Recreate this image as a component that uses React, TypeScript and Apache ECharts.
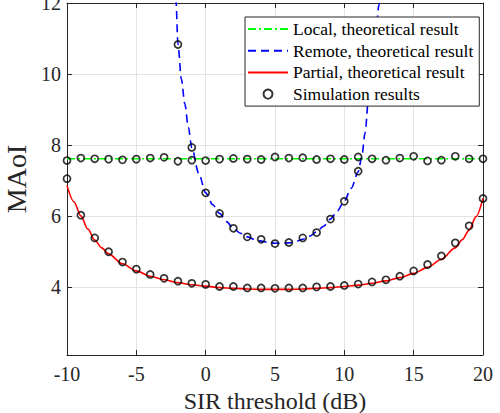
import React, { useEffect, useRef } from "react";
import * as echarts from "echarts";

// ---- Data ----
const seriesNames = [
  "Local, theoretical result",
  "Remote, theoretical result",
  "Partial, theoretical result",
  "Simulation results",
];
const xTitle = "SIR threshold (dB)";
const yTitle = "MAoI";

const simX = [-10, -9, -8, -7, -6, -5, -4, -3, -2, -1, 0, 1, 2, 3, 4, 5, 6, 7, 8, 9, 10, 11, 12, 13, 14, 15, 16, 17, 18, 19, 20];
const localSimY = [7.56, 7.63, 7.61, 7.6, 7.58, 7.6, 7.63, 7.65, 7.54, 7.57, 7.56, 7.6, 7.62, 7.6, 7.59, 7.66, 7.63, 7.64, 7.59, 7.61, 7.59, 7.66, 7.61, 7.57, 7.63, 7.68, 7.55, 7.57, 7.68, 7.61, 7.61];
const partialSimY = [7.05, 6.02, 5.38, 4.99, 4.7, 4.5, 4.35, 4.24, 4.16, 4.1, 4.07, 4.01, 4.01, 3.97, 3.97, 3.96, 3.97, 3.97, 4.0, 4.01, 4.04, 4.08, 4.14, 4.2, 4.3, 4.45, 4.63, 4.87, 5.24, 5.72, 6.49];
const remoteSimX = [-2, -1, 0, 1, 2, 3, 4, 5, 6, 7, 8, 9, 10, 11];
const remoteSimY = [10.83, 7.93, 6.65, 6.07, 5.65, 5.41, 5.34, 5.22, 5.25, 5.38, 5.53, 5.91, 6.41, 7.26];

const localTheoryX = [-10, 20];
const localTheoryY = [7.61, 7.61];

const remoteTheoryX = [-2.2, -2.14, -2, -1.75, -1.5, -1.25, -1, -0.5, 0, 0.5, 1, 1.5, 2, 2.5, 3, 3.5, 4, 4.5, 5, 5.5, 6, 6.5, 7, 7.5, 8, 8.5, 9, 9.5, 10, 10.5, 11, 11.25, 11.5, 11.75, 12, 12.25, 12.5, 12.75];
const remoteTheoryY = [12.5, 12.05, 10.85, 9.85, 9.15, 8.5, 7.92, 7.2, 6.65, 6.32, 6.07, 5.84, 5.65, 5.51, 5.41, 5.34, 5.29, 5.25, 5.23, 5.23, 5.24, 5.28, 5.34, 5.43, 5.55, 5.71, 5.91, 6.14, 6.42, 6.78, 7.24, 7.65, 8.35, 9.35, 10.25, 11.1, 11.95, 12.8];

const partialTheoryX = [-10, -9.5, -9, -8.5, -8, -7.5, -7, -6, -5, -4, -3, -2, -1, 0, 1, 2, 3, 4, 5, 6, 7, 8, 9, 10, 11, 12, 13, 14, 15, 16, 17, 18, 18.5, 19, 19.5, 20];
const partialTheoryY = [6.86, 6.4, 6.0, 5.63, 5.32, 5.1, 4.93, 4.65, 4.45, 4.3, 4.2, 4.12, 4.06, 4.02, 3.98, 3.96, 3.94, 3.93, 3.93, 3.93, 3.94, 3.96, 3.98, 4.01, 4.05, 4.1, 4.17, 4.26, 4.38, 4.55, 4.78, 5.1, 5.33, 5.6, 5.98, 6.5];

const zip = (xs: number[], ys: number[]) => xs.map((x, i) => [x, ys[i]]);

const FONT = "Liberation Serif";
const AXIS_COLOR = "#262626";
const GRID_COLOR = "#e3e3e3";

export default function App() {
  const ref = useRef<HTMLDivElement>(null);

  useEffect(() => {
    if (!ref.current) return;
    const chart = echarts.init(ref.current, undefined, { renderer: "svg" });

    const axisLine = { show: true, onZero: false, lineStyle: { color: AXIS_COLOR, width: 1 } };
    const axisTick = { show: true, inside: true, length: 5, lineStyle: { color: AXIS_COLOR, width: 1 } };
    const hiddenIcon = { opacity: 0 };

    chart.setOption({
      animation: false,
      backgroundColor: "#ffffff",
      textStyle: { fontFamily: FONT },
      grid: { left: 67, right: 17, top: 3, bottom: 58, containLabel: false, outerBoundsMode: "none" },
      xAxis: [
        {
          type: "value",
          min: -10,
          max: 20,
          interval: 5,
          position: "bottom",
          axisLine,
          axisTick,
          axisLabel: { color: AXIS_COLOR, fontFamily: FONT, fontSize: 20, margin: 9 },
          splitLine: { show: true, lineStyle: { color: GRID_COLOR, width: 1 } },
          name: xTitle,
          nameLocation: "middle",
          nameGap: 29,
          nameTextStyle: { color: AXIS_COLOR, fontFamily: FONT, fontSize: 24, lineHeight: 24 },
        },
        {
          type: "value",
          min: -10,
          max: 20,
          interval: 5,
          position: "top",
          axisLine,
          axisTick,
          axisLabel: { show: false },
          splitLine: { show: false },
        },
      ],
      yAxis: [
        {
          type: "value",
          min: 2.08,
          max: 12,
          splitNumber: 5,
          position: "left",
          axisLine,
          axisTick,
          axisLabel: { color: AXIS_COLOR, fontFamily: FONT, fontSize: 20, margin: 6, showMinLabel: false },
          splitLine: { show: true, lineStyle: { color: GRID_COLOR, width: 1 } },
          name: yTitle,
          nameLocation: "middle",
          nameGap: 27,
          nameTextStyle: { color: AXIS_COLOR, fontFamily: FONT, fontSize: 28 },
        },
        {
          type: "value",
          min: 2.08,
          max: 12,
          splitNumber: 5,
          position: "right",
          axisLine,
          axisTick,
          axisLabel: { show: false },
          splitLine: { show: false },
        },
      ],
      legend: {
        orient: "vertical",
        left: 245,
        top: 17,
        backgroundColor: "#ffffff",
        borderColor: AXIS_COLOR,
        borderWidth: 1,
        borderRadius: 0,
        padding: [2, 6, 2, 2],
        itemWidth: 40,
        itemHeight: 9,
        itemGap: 1.7,
        textStyle: { fontFamily: FONT, fontSize: 17.5, color: "#000000", lineHeight: 20 },
        data: [
          { name: seriesNames[0], itemStyle: hiddenIcon },
          { name: seriesNames[1], itemStyle: hiddenIcon },
          { name: seriesNames[2], itemStyle: hiddenIcon },
          { name: seriesNames[3] },
        ],
      },
      series: [
        {
          name: seriesNames[0],
          type: "line",
          xAxisIndex: 0,
          yAxisIndex: 0,
          data: zip(localTheoryX, localTheoryY),
          symbol: "none",
          lineStyle: { color: "#00ff00", width: 1.6, type: [8, 3, 2, 3] },
          itemStyle: { color: "#00ff00" },
          z: 2,
        },
        {
          name: seriesNames[1],
          type: "line",
          xAxisIndex: 0,
          yAxisIndex: 0,
          data: zip(remoteTheoryX, remoteTheoryY),
          symbol: "none",
          smooth: 0.3,
          smoothMonotone: "x",
          lineStyle: { color: "#0000ff", width: 1.6, type: [8, 5] },
          itemStyle: { color: "#0000ff" },
          z: 2,
        },
        {
          name: seriesNames[2],
          type: "line",
          xAxisIndex: 0,
          yAxisIndex: 0,
          data: zip(partialTheoryX, partialTheoryY),
          symbol: "none",
          smooth: 0.3,
          smoothMonotone: "x",
          lineStyle: { color: "#ff0000", width: 1.6 },
          itemStyle: { color: "#ff0000" },
          z: 2,
        },
        {
          name: seriesNames[3],
          type: "scatter",
          xAxisIndex: 0,
          yAxisIndex: 0,
          data: [
            ...zip(simX, localSimY),
            ...zip(remoteSimX, remoteSimY),
            ...zip(simX, partialSimY),
          ],
          symbol: "circle",
          symbolSize: 7,
          itemStyle: { color: "rgba(255,255,255,0)", borderColor: "#000000", borderWidth: 1.7 },
          z: 3,
        },
      ],
    });

    return () => chart.dispose();
  }, []);

  return (
    <div
      ref={ref}
      style={{ position: "fixed", left: 0, top: 0, width: 500, height: 413, background: "#fff" }}
    />
  );
}
